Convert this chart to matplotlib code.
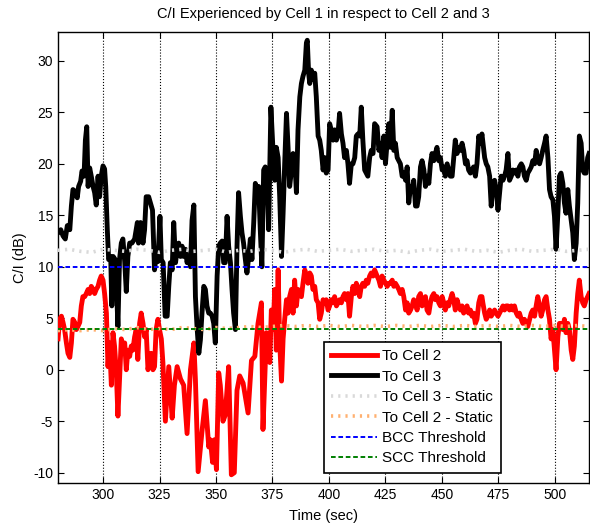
import matplotlib
matplotlib.use("Agg")
import matplotlib.pyplot as plt
import numpy as np

plt.rcParams['font.family'] = ['Liberation Sans', 'DejaVu Sans']
plt.rcParams['axes.unicode_minus'] = False

# ---------------- data ----------------
t_cell3 = [280.1, 281.3, 282.3, 283.3, 284.2, 285.3, 286.0, 286.7, 287.8, 288.6, 289.2, 290.1, 290.7, 291.6,
           292.2, 292.8, 293.4, 294.1, 294.8, 295.6, 296.3, 297.0, 297.8, 298.5, 299.2, 300.0, 300.7, 301.2,
           301.9, 302.5, 303.4, 303.9, 304.5, 305.4, 305.9, 306.6, 307.3, 308.1, 308.8, 309.6, 310.3, 311.0,
           311.8, 312.8, 314.0, 315.2, 315.7, 316.6, 317.7, 318.4, 319.1, 320.2, 321.0, 321.9, 322.8, 323.7,
           324.3, 325.2, 325.8, 326.6, 327.5, 328.4, 329.1, 329.8, 330.6, 331.3, 332.1, 332.8, 333.5, 334.3,
           335.0, 335.7, 336.5, 337.2, 337.9, 338.7, 339.4, 340.2, 340.9, 341.6, 342.4, 343.1, 343.8, 344.6,
           345.3, 346.0, 346.8, 347.5, 348.3, 349.0, 349.7, 350.5, 351.2, 351.9, 352.7, 353.4, 354.1, 354.9,
           355.6, 356.4, 357.1, 357.8, 358.6, 359.3, 360.0, 360.8, 361.5, 362.2, 363.0, 363.7, 364.5, 365.2,
           365.9, 366.7, 367.4, 368.1, 368.9, 369.6, 370.3, 371.1, 371.8, 372.6, 373.3, 374.3, 375.3, 376.0,
           376.7, 377.5, 378.2, 379.0, 379.7, 380.4, 381.2, 381.9, 382.6, 383.4, 384.1, 384.8, 385.6, 386.3,
           387.1, 387.8, 388.5, 389.3, 390.0, 390.4, 391.0, 391.5, 392.2, 392.9, 393.7, 394.4, 395.2, 395.9,
           396.6, 397.4, 398.1, 398.8, 399.6, 400.3, 401.0, 401.8, 402.5, 403.3, 404.0, 404.7, 405.5, 406.2,
           406.9, 407.7, 408.4, 409.1, 409.9, 410.6, 411.4, 412.1, 412.8, 413.6, 414.3, 415.0, 415.8, 416.5,
           417.2, 418.0, 418.7, 419.5, 420.2, 421.3, 422.1, 422.8, 423.5, 424.3, 425.0, 425.8, 426.5, 427.2,
           428.0, 428.7, 429.4, 430.2, 430.9, 431.6, 432.4, 433.1, 433.9, 434.6, 435.3, 436.1, 436.8, 437.5,
           438.3, 439.0, 439.7, 440.5, 441.2, 442.0, 442.7, 443.4, 444.2, 444.9, 445.6, 446.4, 447.1, 447.8,
           448.6, 449.3, 450.1, 450.8, 451.5, 452.3, 453.0, 453.7, 454.5, 455.2, 455.9, 456.7, 457.4, 458.2,
           458.9, 459.6, 460.4, 461.1, 461.8, 462.6, 463.3, 464.0, 464.8, 465.5, 466.3, 467.0, 467.7, 468.9,
           469.6, 470.3, 471.1, 471.8, 472.6, 473.3, 474.0, 474.8, 475.5, 476.2, 477.0, 477.7, 478.4, 479.2,
           479.9, 480.7, 481.4, 482.1, 482.9, 483.6, 484.3, 485.1, 485.8, 486.5, 487.3, 488.0, 488.8, 489.5,
           490.2, 491.0, 491.7, 492.4, 493.2, 493.9, 494.6, 495.4, 496.1, 496.9, 497.6, 498.3, 499.1, 499.8,
           500.5, 501.3, 502.0, 502.7, 503.5, 504.2, 504.9, 505.7, 506.4, 507.2, 507.9, 508.6, 509.4, 510.1,
           510.8, 511.6, 512.3, 513.0, 513.8, 514.5, 515.1]
ci_cell3 = [13.3, 13.6, 13.0, 12.7, 14.0, 13.6, 15.9, 17.5, 17.3, 16.7, 17.8, 18.3, 19.3, 18.8,
            22.3, 23.6, 17.8, 19.6, 18.8, 17.8, 17.2, 16.0, 18.8, 16.8, 18.8, 19.8, 19.5, 17.8,
            13.6, 10.7, 11.0, 6.2, 11.0, 10.7, 8.4, 4.2, 10.7, 12.3, 12.7, 10.5, 7.6, 11.0,
            12.3, 12.3, 12.7, 14.3, 12.3, 14.3, 12.3, 13.6, 16.8, 16.8, 16.2, 15.5, 9.7, 11.3,
            10.5, 14.9, 10.7, 10.4, 5.2, 5.2, 8.1, 10.4, 9.7, 14.3, 10.4, 11.7, 12.3, 11.0,
            12.0, 11.0, 11.7, 10.4, 11.0, 10.0, 14.5, 16.0, 7.1, 4.2, 1.6, 2.9, 5.5, 8.1,
            7.8, 6.2, 5.5, 5.5, 5.2, 4.5, 2.6, 9.1, 12.0, 12.3, 12.5, 10.4, 10.4, 14.9,
            12.0, 10.4, 7.8, 5.5, 3.9, 12.0, 17.2, 14.9, 13.3, 12.3, 10.7, 9.4, 11.0, 12.7,
            10.7, 14.3, 18.1, 17.5, 17.8, 13.6, 10.0, 19.4, 19.7, 18.8, 13.6, 25.5, 21.0, 18.4,
            21.6, 20.6, 16.8, 11.0, 15.2, 20.0, 24.9, 21.6, 17.8, 19.4, 21.0, 20.6, 17.2, 23.3,
            26.5, 27.8, 28.5, 29.1, 31.7, 32.0, 28.8, 27.8, 29.1, 28.2, 28.8, 26.5, 22.7, 22.3,
            21.3, 19.4, 20.6, 19.1, 19.4, 23.9, 23.3, 22.3, 23.3, 22.3, 22.9, 24.9, 22.9, 22.0,
            20.6, 21.3, 20.0, 18.1, 20.0, 20.0, 20.6, 22.7, 22.9, 22.7, 25.5, 22.3, 19.4, 19.1,
            18.8, 20.6, 21.3, 21.0, 23.9, 23.6, 21.3, 22.0, 20.6, 22.7, 20.0, 22.3, 23.9, 21.6,
            25.2, 21.3, 22.0, 20.6, 20.3, 20.0, 18.8, 19.1, 18.4, 19.7, 16.2, 17.8, 17.5, 18.4,
            15.9, 15.9, 16.8, 19.7, 20.3, 19.4, 17.8, 18.8, 18.1, 20.0, 21.0, 20.3, 21.0, 21.6,
            20.3, 20.6, 19.4, 19.7, 18.8, 20.0, 19.4, 18.8, 18.8, 20.6, 22.3, 21.0, 21.6, 21.3,
            22.0, 21.3, 20.0, 20.3, 19.4, 19.1, 19.4, 19.7, 18.8, 20.0, 22.7, 22.0, 22.9, 20.6,
            20.0, 19.7, 18.8, 15.9, 18.1, 18.4, 17.5, 15.5, 17.2, 18.8, 18.4, 18.8, 19.4, 21.0,
            18.4, 18.8, 19.4, 19.1, 19.4, 18.8, 19.7, 20.0, 19.7, 18.8, 18.4, 19.1, 19.4, 19.7,
            20.3, 20.0, 21.3, 20.3, 20.0, 20.6, 21.3, 22.0, 22.7, 20.6, 17.5, 16.8, 16.5, 14.9,
            11.7, 15.2, 18.8, 19.1, 18.1, 16.2, 15.2, 17.5, 15.9, 14.5, 13.3, 10.7, 12.3, 16.2,
            22.7, 22.0, 19.4, 19.1, 19.1, 20.6, 21.0]

t_cell2 = [280.1, 280.8, 281.6, 282.3, 283.0, 283.8, 284.5, 285.3, 286.0, 286.7, 287.5, 288.2, 288.9, 289.7,
           290.4, 291.1, 291.9, 292.6, 293.4, 294.1, 294.8, 295.6, 296.3, 297.0, 297.8, 298.5, 299.2, 300.0,
           300.7, 301.5, 302.2, 302.9, 303.7, 304.4, 305.1, 305.9, 306.6, 307.3, 308.1, 308.8, 309.6, 310.3,
           311.0, 311.8, 312.5, 313.2, 314.0, 314.7, 315.4, 316.2, 316.9, 317.7, 318.4, 319.1, 319.9, 320.6,
           321.3, 322.1, 322.8, 323.5, 324.3, 325.0, 325.8, 326.5, 327.6, 329.1, 330.6, 331.6, 332.8, 334.3,
           335.7, 337.2, 338.7, 340.2, 340.9, 342.1, 343.8, 345.3, 346.8, 347.5, 348.5, 349.3, 350.2, 351.2,
           351.9, 353.1, 354.1, 355.6, 356.8, 358.1, 359.3, 360.5, 362.0, 364.2, 365.7, 367.2, 368.6, 370.1,
           370.8, 372.3, 373.8, 374.5, 375.3, 376.0, 376.7, 377.5, 378.2, 379.0, 379.7, 380.4, 381.2, 381.9,
           382.6, 383.4, 384.1, 384.8, 385.6, 386.3, 387.1, 387.8, 388.5, 389.3, 390.0, 390.7, 391.5, 392.2,
           392.9, 393.7, 394.4, 395.2, 395.9, 396.6, 397.4, 398.1, 398.8, 399.6, 400.3, 401.0, 401.8, 402.5,
           403.3, 404.0, 404.7, 405.5, 406.2, 406.9, 407.7, 408.4, 409.1, 409.9, 410.6, 411.4, 412.1, 412.8,
           413.6, 414.3, 415.0, 415.8, 416.5, 417.2, 418.0, 418.7, 419.5, 420.2, 421.3, 422.1, 422.8, 423.5,
           424.3, 425.0, 425.8, 426.5, 427.2, 428.0, 428.7, 429.4, 430.2, 430.9, 431.6, 432.4, 433.1, 433.9,
           434.6, 435.3, 436.1, 436.8, 437.5, 438.3, 439.0, 439.7, 440.5, 441.2, 442.0, 442.7, 443.4, 444.2,
           444.9, 445.6, 446.4, 447.1, 447.8, 448.6, 449.3, 450.1, 450.8, 451.5, 452.3, 453.0, 453.7, 454.5,
           455.2, 455.9, 456.7, 457.4, 458.2, 458.9, 459.6, 460.4, 461.1, 461.8, 462.6, 463.3, 464.0, 464.8,
           465.5, 466.3, 467.0, 467.7, 468.1, 468.9, 469.6, 470.3, 471.1, 471.8, 472.6, 473.3, 474.0, 474.8,
           475.5, 476.2, 477.0, 477.7, 478.4, 479.2, 479.9, 480.7, 481.4, 482.1, 482.9, 483.6, 484.3, 485.1,
           485.8, 486.5, 487.3, 488.0, 488.8, 489.5, 490.2, 491.0, 491.7, 492.4, 493.2, 493.9, 494.6, 495.4,
           496.1, 496.9, 497.6, 498.3, 499.1, 499.8, 500.5, 501.3, 502.0, 502.7, 503.5, 504.2, 504.9, 505.7,
           506.4, 507.2, 507.9, 508.6, 509.4, 510.1, 510.8, 511.6, 512.3, 513.0, 513.8, 514.5, 515.1]
ci_cell2 = [3.0, 4.9, 5.2, 4.6, 3.9, 2.6, 1.6, 1.2, 2.6, 4.9, 4.6, 3.9, 4.2, 4.6,
            6.2, 7.1, 7.1, 7.4, 7.8, 7.4, 8.1, 7.8, 7.4, 7.8, 8.1, 8.7, 9.1, 8.7,
            7.4, 5.5, 0.3, 2.6, -1.5, 3.6, 2.3, -0.3, -4.5, -0.9, 3.0, 2.3, 2.6, 0.0,
            1.9, 1.3, 2.3, 1.9, 3.2, 3.9, 1.0, 4.5, 5.5, 4.5, 3.2, 3.9, 0.0, 1.0,
            1.6, 0.0, 0.3, 3.9, 4.9, 3.9, 3.0, 0.7, -5.0, 0.3, -4.7, -1.5, 0.3, -0.9,
            -1.5, -6.2, 0.0, 2.6, -1.0, -9.9, -6.0, -3.0, -7.5, -6.8, -9.0, -6.8, -9.7, -0.3,
            -1.5, -5.0, -4.4, 0.3, -10.2, -10.0, -2.0, -0.6, -1.3, -4.2, 0.9, 1.3, 4.5, 6.5,
            -5.8, 3.6, 0.7, 5.8, 3.9, 7.8, 1.9, 9.7, 2.6, -1.1, 3.0, 4.9, 6.8, 5.5,
            7.1, 7.8, 5.5, 8.7, 6.2, 7.8, 7.4, 7.1, 8.4, 9.7, 9.1, 8.4, 9.4, 9.1,
            7.8, 8.1, 6.8, 6.5, 4.9, 5.5, 6.8, 6.5, 6.8, 5.8, 6.2, 6.8, 6.5, 7.1,
            6.2, 6.5, 6.8, 6.5, 7.1, 7.4, 6.8, 7.4, 5.2, 7.1, 8.1, 7.4, 8.4, 7.8,
            7.1, 8.1, 8.4, 8.1, 8.7, 8.4, 9.1, 9.4, 9.1, 9.7, 9.1, 8.7, 8.1, 9.1,
            8.7, 8.4, 8.1, 8.4, 8.4, 8.7, 8.1, 8.4, 8.1, 7.8, 7.4, 7.8, 7.1, 5.8,
            6.5, 5.5, 5.8, 6.2, 6.8, 6.5, 5.8, 7.1, 7.4, 6.2, 6.8, 7.1, 5.8, 5.5,
            6.5, 7.1, 7.4, 6.8, 7.1, 6.5, 6.2, 7.1, 6.5, 5.8, 6.5, 6.2, 6.8, 7.4,
            6.8, 5.8, 6.8, 6.2, 5.8, 6.2, 5.5, 5.8, 6.2, 5.5, 5.8, 5.2, 5.5, 4.5,
            4.9, 6.5, 7.1, 7.1, 6.5, 5.5, 4.9, 5.2, 5.8, 5.2, 5.5, 5.8, 5.5, 5.2,
            5.5, 5.8, 6.2, 5.8, 6.2, 6.2, 5.8, 6.2, 5.8, 6.2, 5.5, 5.2, 5.5, 4.9,
            4.5, 4.9, 4.5, 4.2, 4.9, 5.5, 5.8, 5.2, 6.2, 7.1, 6.2, 5.2, 5.8, 6.8,
            7.1, 5.8, 4.9, 3.0, 3.9, 1.9, 0.0, 3.2, 4.5, 4.5, 3.9, 4.9, 3.6, 4.5,
            3.9, 1.9, 1.0, 2.3, 5.5, 7.4, 8.7, 7.1, 6.5, 6.2, 6.8, 7.1, 7.4]

t_static = [280, 285, 290, 295, 300, 305, 310, 315, 320, 325, 330, 335, 340, 345, 350, 355,
            360, 365, 370, 375, 380, 385, 390, 395, 400, 405, 410, 415, 420, 425, 430, 435,
            440, 445, 450, 455, 460, 465, 470, 475, 480, 485, 490, 495, 500, 505, 510, 515]
ci_cell3_static = [11.6, 11.7, 11.5, 11.4, 11.7, 11.6, 11.5, 11.7, 11.6, 11.4, 11.6, 11.7, 11.5, 11.6, 11.7, 11.4,
                   11.6, 11.5, 11.7, 11.6, 11.4, 11.6, 11.7, 11.5, 11.6, 11.7, 11.5, 11.6, 11.7, 11.5, 11.6, 11.4,
                   11.6, 11.7, 11.5, 11.6, 11.7, 11.5, 11.6, 11.4, 11.6, 11.7, 11.5, 11.6, 11.7, 11.5, 11.6, 11.7]
ci_cell2_static = [3.8, 3.9, 3.8, 3.9, 3.8, 4.0, 3.9, 4.1, 3.9, 4.0, 3.9, 4.1, 4.0, 3.9, 4.1, 4.0,
                   4.1, 4.2, 4.1, 4.2, 4.3, 4.2, 4.3, 4.2, 4.3, 4.2, 4.3, 4.2, 4.3, 4.2, 4.3, 4.2,
                   4.3, 4.2, 4.3, 4.2, 4.3, 4.2, 4.3, 4.2, 4.3, 4.2, 4.3, 4.2, 4.3, 4.2, 4.3, 4.2]

bcc_threshold = 10
scc_threshold = 4

x_ticks = [300, 325, 350, 375, 400, 425, 450, 475, 500]
y_ticks = [-10, -5, 0, 5, 10, 15, 20, 25, 30]
labels = ['To Cell 2', 'To Cell 3', 'To Cell 3 - Static', 'To Cell 2 - Static',
          'BCC Threshold', 'SCC Threshold']

# ---------------- plot ----------------
fig = plt.figure(figsize=(5.9, 5.25), dpi=100)
ax = fig.add_axes([0.098, 0.08, 0.9, 0.859])

ax.plot(t_cell2, ci_cell2, color='#ff0000', lw=3.5, label=labels[0], solid_joinstyle='round', zorder=3)
ax.plot(t_cell3, ci_cell3, color='black', lw=3.5, label=labels[1], solid_joinstyle='round', zorder=3)
ax.plot(t_static, ci_cell3_static, color='#d9d9d9', lw=2.6, dashes=(0.6, 1.4), label=labels[2], zorder=4)
ax.plot(t_static, ci_cell2_static, color='#ffb070', lw=2.6, dashes=(0.6, 1.4), label=labels[3], zorder=4)
ax.axhline(bcc_threshold, color='#0000ff', lw=1.4, dashes=(2.4, 1.4), label=labels[4], zorder=5)
ax.axhline(scc_threshold, color='#008000', lw=1.4, dashes=(2.4, 1.4), label=labels[5], zorder=5)

ax.set_xlim(280, 515)
ax.set_ylim(-11, 32.8)
ax.set_xticks(x_ticks)
ax.set_yticks(y_ticks)
ax.grid(axis='x', color='black', linestyle=':', linewidth=0.8)
ax.tick_params(direction='in', top=True, right=True, labelsize=10, length=4)
for s in ax.spines.values():
    s.set_linewidth(1.0)

ax.set_title('C/I Experienced by Cell 1 in respect to Cell 2 and 3', fontsize=10.5, pad=10)
ax.set_xlabel('Time (sec)', fontsize=10.5, labelpad=5)
ax.set_ylabel('C/I (dB)', fontsize=10.5, labelpad=4)

leg = ax.legend(loc='lower left', bbox_to_anchor=(0.501, 0.022), fontsize=11,
                handlelength=3.0, handletextpad=0.33, labelspacing=0.42, borderpad=0.5,
                borderaxespad=0, fancybox=False, framealpha=1, edgecolor='black')
leg.get_frame().set_linewidth(1.2)

fig.savefig('out.png', dpi=100)
